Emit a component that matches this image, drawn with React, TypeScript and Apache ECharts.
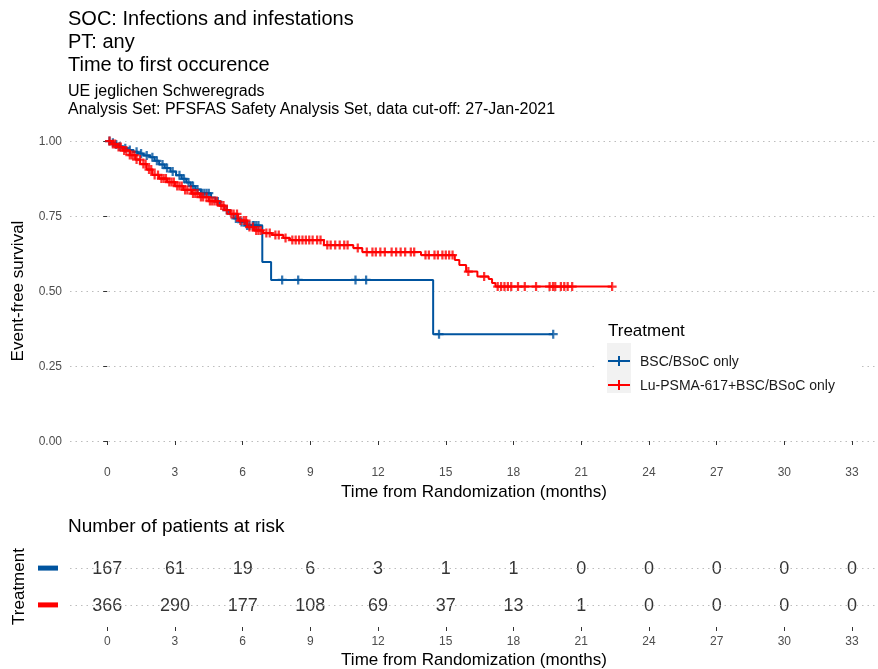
import React, { useEffect, useRef } from "react";
import * as echarts from "echarts";

const FONT = "Liberation Sans, Arial, sans-serif";

const xTicks = [0, 3, 6, 9, 12, 15, 18, 21, 24, 27, 30, 33];
const yTicks = [0, 0.25, 0.5, 0.75, 1];
const groups = ["BSC/BSoC only", "Lu-PSMA-617+BSC/BSoC only"];
const colors = ["#00549F", "#FF0000"];

// BSC/BSoC only: step times and survival after each step
const bscTime = [0, 0.15, 0.3, 0.5, 0.7, 0.9, 1.15, 1.35, 1.6, 1.9, 2.1, 2.3, 2.55, 2.8, 3.05, 3.3, 3.5, 3.7, 3.9, 4.15, 4.6, 4.8, 5.0, 5.2, 5.4, 5.6, 5.85, 6.1, 6.87, 7.26, 14.44, 19.76];
const bscSurv = [1, 0.994, 0.988, 0.982, 0.976, 0.97, 0.964, 0.958, 0.952, 0.946, 0.934, 0.922, 0.91, 0.898, 0.886, 0.874, 0.862, 0.85, 0.838, 0.826, 0.812, 0.798, 0.784, 0.77, 0.756, 0.742, 0.73, 0.718, 0.597, 0.537, 0.356, 0.356];
const bscCensor = [0.1, 0.25, 0.4, 0.55, 0.8, 1.0, 1.3, 1.5, 1.75, 2.0, 2.2, 2.45, 2.65, 2.9, 3.2, 3.4, 3.6, 3.8, 4.0, 4.2, 4.3, 4.4, 4.5, 4.9, 5.3, 5.7, 5.95, 6.2, 6.3, 6.45, 6.5, 6.6, 6.7, 7.75, 8.46, 11.0, 11.47, 14.7, 19.76];

// Lu-PSMA-617+BSC/BSoC only
const luTime = [0, 0.2, 0.45, 0.7, 1.0, 1.25, 1.46, 1.75, 2.0, 2.3, 2.65, 3.0, 3.37, 3.75, 4.1, 4.5, 4.9, 5.2, 5.45, 5.8, 6.2, 6.5, 6.9, 7.3, 7.8, 8.1, 9.6, 10.9, 11.3, 13.9, 15.4, 15.6, 15.9, 16.4, 16.9, 17.05, 17.2, 22.37];
const luSurv = [1, 0.99, 0.98, 0.968, 0.953, 0.938, 0.923, 0.905, 0.887, 0.875, 0.863, 0.85, 0.837, 0.825, 0.813, 0.8, 0.785, 0.77, 0.757, 0.735, 0.713, 0.702, 0.693, 0.687, 0.677, 0.67, 0.653, 0.643, 0.63, 0.62, 0.603, 0.587, 0.565, 0.548, 0.54, 0.527, 0.515, 0.515];
const luCensor = [0.1, 0.25, 0.35, 0.5, 0.6, 0.75, 0.85, 1.0, 1.1, 1.2, 1.3, 1.45, 1.6, 1.7, 1.85, 1.95, 2.1, 2.25, 2.4, 2.5, 2.6, 2.75, 2.85, 2.95, 3.1, 3.2, 3.3, 3.45, 3.55, 3.7, 3.8, 3.9, 4.0, 4.15, 4.25, 4.4, 4.55, 4.65, 4.75, 4.85, 5.05, 5.15, 5.3, 5.5, 5.6, 5.75, 5.9, 6.05, 6.15, 6.3, 6.45, 6.6, 6.7, 6.8, 7.05, 7.2, 7.45, 7.6, 7.9, 8.2, 8.35, 8.5, 8.65, 8.8, 8.95, 9.1, 9.3, 9.45, 9.75, 9.9, 10.1, 10.3, 10.5, 10.65, 11.1, 11.5, 11.75, 11.9, 12.1, 12.3, 12.6, 12.8, 13.0, 13.2, 13.45, 13.6, 14.1, 14.25, 14.5, 14.65, 14.85, 15.0, 15.15, 15.3, 16.0, 16.7, 17.3, 17.45, 17.6, 17.75, 17.9, 18.2, 18.5, 19.0, 19.6, 19.75, 19.85, 20.1, 20.25, 20.4, 20.6, 22.37];

// Number at risk
const riskBsc = [167, 61, 19, 6, 3, 1, 1, 0, 0, 0, 0, 0];
const riskLu = [366, 290, 177, 108, 69, 37, 13, 1, 0, 0, 0, 0];

const PLUS = "path://M-1,-4 L1,-4 L1,-1 L4,-1 L4,1 L1,1 L1,4 L-1,4 L-1,1 L-4,1 L-4,-1 L-1,-1 Z";
const LEGEND_ICON = "path://M0,5 L22,5 L22,7 L0,7 Z M10,1 L12,1 L12,11 L10,11 Z";

function survAt(times: number[], surv: number[], t: number) {
  let v = surv[0];
  for (let i = 0; i < times.length; i++) {
    if (times[i] <= t) v = surv[i];
  }
  return v;
}

export default function App() {
  const ref = useRef<HTMLDivElement>(null);
  useEffect(() => {
    if (!ref.current) return;
    const chart = echarts.init(ref.current, undefined, { renderer: "svg" });
    const curves = [
      { time: bscTime, surv: bscSurv, cens: bscCensor },
      { time: luTime, surv: luSurv, cens: luCensor },
    ];
    const series: any[] = [];
    curves.forEach((c, gi) => {
      series.push({
        name: groups[gi],
        type: "line",
        xAxisIndex: 0,
        yAxisIndex: 0,
        step: "end",
        showSymbol: false,
        symbol: "none",
        lineStyle: { color: colors[gi], width: 2 },
        itemStyle: { color: colors[gi] },
        data: c.time.map((t, i) => [t, c.surv[i]]),
        z: 2 + gi,
      });
      series.push({
        name: groups[gi] + " censored",
        type: "scatter",
        xAxisIndex: 0,
        yAxisIndex: 0,
        symbol: PLUS,
        symbolSize: 9,
        itemStyle: { color: colors[gi] },
        data: c.cens.map((t) => [t, survAt(c.time, c.surv, t)]),
        z: 2 + gi,
      });
    });
    const riskData: any[] = [];
    xTicks.forEach((t, i) => {
      riskData.push([t, 2, riskBsc[i]]);
      riskData.push([t, 1, riskLu[i]]);
    });
    series.push({
      name: "risk",
      type: "scatter",
      xAxisIndex: 1,
      yAxisIndex: 1,
      symbol: "circle",
      symbolSize: 1,
      itemStyle: { color: "transparent" },
      data: riskData,
      label: {
        show: true,
        position: "inside",
        formatter: (p: any) => String(p.value[2]),
        fontFamily: FONT,
        fontSize: 18,
        color: "#000",
        backgroundColor: "#fff",
        padding: [0, 2],
      },
      markLine: {
        silent: true,
        symbol: ["none", "none"],
        label: { show: false },
        lineStyle: { color: "#BDBDBD", type: [1.5, 4], width: 1.2 },
        data: [{ yAxis: 1 }, { yAxis: 2 }],
      },
      z: 3,
    });

    const option: any = {
      animation: false,
      textStyle: { fontFamily: FONT },
      title: [
        {
          text: "SOC: Infections and infestations\nPT: any\nTime to first occurence",
          left: 68,
          top: 6,
          padding: 0,
          textStyle: { fontFamily: FONT, fontSize: 20, fontWeight: "normal", color: "#000", lineHeight: 23 },
        },
        {
          text: "UE jeglichen Schweregrads\nAnalysis Set: PFSFAS Safety Analysis Set, data cut-off: 27-Jan-2021",
          left: 68,
          top: 81,
          padding: 0,
          textStyle: { fontFamily: FONT, fontSize: 16, fontWeight: "normal", color: "#000", lineHeight: 18 },
        },
        {
          text: "Number of patients at risk",
          left: 68,
          top: 514,
          padding: 0,
          textStyle: { fontFamily: FONT, fontSize: 19, fontWeight: "normal", color: "#000", lineHeight: 22 },
        },
      ],
      grid: [
        { left: 70, right: 0, top: 126, height: 330, containLabel: false, outerBoundsMode: "none" },
        { left: 70, right: 0, top: 546, height: 81, containLabel: false, outerBoundsMode: "none" },
      ],
      xAxis: [
        {
          type: "value",
          gridIndex: 0,
          min: -1.65,
          max: 34.15,
          axisLine: { show: false },
          axisTick: { show: true, customValues: xTicks, length: 4, lineStyle: { color: "#333" } },
          axisLabel: { customValues: xTicks, fontSize: 12, color: "#4D4D4D", margin: 10, fontFamily: FONT },
          splitLine: { show: false },
          name: "Time from Randomization (months)",
          nameLocation: "middle",
          nameGap: 27,
          nameTextStyle: { fontSize: 17, color: "#000", fontFamily: FONT },
        },
        {
          type: "value",
          gridIndex: 1,
          min: -1.65,
          max: 34.15,
          axisLine: { show: false },
          axisTick: { show: true, customValues: xTicks, length: 4, lineStyle: { color: "#333" } },
          axisLabel: { customValues: xTicks, fontSize: 12, color: "#4D4D4D", margin: 8, fontFamily: FONT },
          splitLine: { show: false },
          name: "Time from Randomization (months)",
          nameLocation: "middle",
          nameGap: 24,
          nameTextStyle: { fontSize: 17, color: "#000", fontFamily: FONT },
        },
      ],
      yAxis: [
        {
          type: "value",
          gridIndex: 0,
          min: -0.05,
          max: 1.05,
          axisLine: { show: false },
          axisTick: { show: true, customValues: yTicks, length: 4, lineStyle: { color: "#333" } },
          axisLabel: {
            customValues: yTicks,
            formatter: (v: number) => v.toFixed(2),
            fontSize: 12,
            color: "#4D4D4D",
            margin: 8,
            fontFamily: FONT,
          },
          splitLine: { show: true, lineStyle: { color: "#BDBDBD", type: [1.5, 4], width: 1.2 } },
          name: "Event-free survival",
          nameLocation: "middle",
          nameGap: 44,
          nameRotate: 90,
          nameTextStyle: { fontSize: 17, color: "#000", fontFamily: FONT },
        },
        {
          type: "value",
          gridIndex: 1,
          min: 0.4,
          max: 2.6,
          axisLine: { show: false },
          axisTick: { show: false, customValues: [1, 2] },
          axisLabel: {
            customValues: [1, 2],
            margin: 12,
            formatter: (v: number) => (v === 2 ? "{b|}" : "{r|}"),
            rich: {
              b: { width: 20, height: 5, backgroundColor: colors[0] },
              r: { width: 20, height: 5, backgroundColor: colors[1] },
            },
          },
          splitLine: { show: false },
          name: "Treatment",
          nameLocation: "middle",
          nameGap: 42,
          nameRotate: 90,
          nameTextStyle: { fontSize: 17, color: "#000", fontFamily: FONT },
        },
      ],
      legend: {
        orient: "vertical",
        left: 608,
        top: 354,
        padding: 0,
        itemWidth: 22,
        itemHeight: 12,
        itemGap: 10,
        z: 10,
        textStyle: { fontFamily: FONT, fontSize: 14, color: "#1a1a1a", lineHeight: 12, padding: [0, 0, 0, 5] },
        data: groups.map((g) => ({ name: g, icon: LEGEND_ICON })),
      },
      graphic: [
        { type: "rect", z: 5, shape: { x: 598, y: 315, width: 262, height: 86 }, style: { fill: "#fff" } },
        { type: "rect", z: 6, shape: { x: 607, y: 343, width: 24, height: 50 }, style: { fill: "#F2F2F2" } },
        {
          type: "text",
          z: 7,
          x: 608,
          y: 330,
          style: { text: "Treatment", fontFamily: FONT, fontSize: 17, fill: "#000", verticalAlign: "middle" },
        },
      ],
      series,
    };
    chart.setOption(option);
    return () => chart.dispose();
  }, []);
  return <div ref={ref} style={{ position: "fixed", left: 0, top: 0, width: 878, height: 669 }} />;
}
